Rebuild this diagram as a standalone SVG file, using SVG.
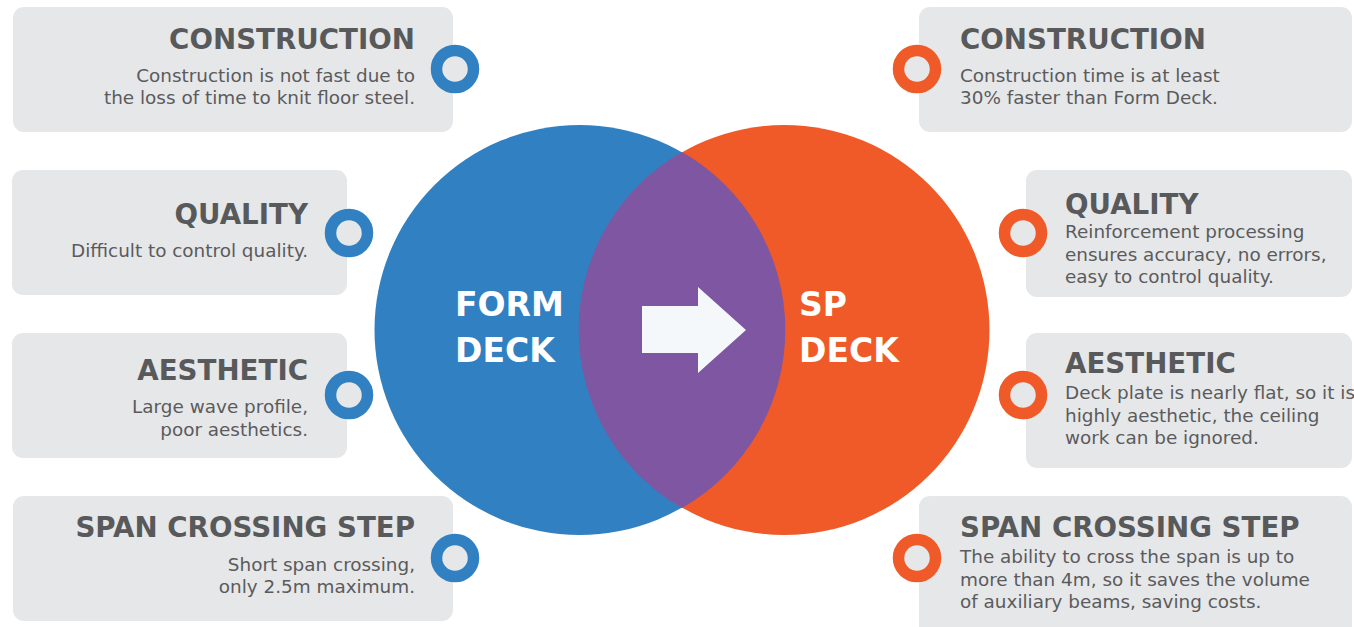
<svg xmlns="http://www.w3.org/2000/svg" width="1354" height="627" viewBox="0 0 1354 627">
  <style>
    .card { fill: #e6e7e8; }
    .title { font-family: "DejaVu Sans", "Open Sans", sans-serif; font-weight: 700; font-size: 27.7px; fill: #58595b; }
    .body { font-family: "DejaVu Sans", "Open Sans", sans-serif; font-weight: 400; font-size: 18.4px; fill: #5a5b5d; }
    .end { text-anchor: end; }
    .ring-blue { fill: #e6e7e8; stroke: #3180c2; stroke-width: 11.5; }
    .ring-orange { fill: #e6e7e8; stroke: #f05a29; stroke-width: 11.5; }
    .big { font-family: "DejaVu Sans", "Open Sans", sans-serif; font-weight: 700; font-size: 33px; fill: #ffffff; }
  </style>

  <rect width="1354" height="627" fill="#ffffff"/>

  <!-- Venn circles -->
  <g id="form-deck">
    <circle cx="579.5" cy="330" r="205" fill="#3180c2"/>
    <text class="big" x="455" y="316">FORM</text>
    <text class="big" x="455" y="362">DECK</text>
  </g>
  <g id="sp-deck">
    <circle cx="784.5" cy="330" r="205" fill="#f05a29"/>
    <text class="big" x="799" y="316">SP</text>
    <text class="big" x="799" y="362">DECK</text>
  </g>
  <g id="overlap">
    <path d="M682,152 A205,205 0 0 1 682,508 A205,205 0 0 1 682,152 Z" fill="#7e56a1"/>
  </g>

  <!-- Transition arrow -->
  <g id="connectors">
    <polygon points="642,306 698,306 698,287 746,330 698,373 698,353 642,353" fill="#f5f8fa"/>
  </g>

  <!-- Form Deck cards -->
  <g id="left-construction">
    <rect class="card" x="13" y="7" width="440" height="125" rx="11"/>
    <text class="title end" x="415" y="49">CONSTRUCTION</text>
    <text class="body end" x="415" y="82">Construction is not fast due to</text>
    <text class="body end" x="415" y="104">the loss of time to knit floor steel.</text>
    <circle class="ring-blue" cx="455" cy="69" r="18.5"/>
  </g>
  <g id="left-quality">
    <rect class="card" x="12" y="170" width="335" height="125" rx="11"/>
    <text class="title end" x="308" y="224">QUALITY</text>
    <text class="body end" x="308" y="257">Difficult to control quality.</text>
    <circle class="ring-blue" cx="349" cy="233" r="18.5"/>
  </g>
  <g id="left-aesthetic">
    <rect class="card" x="12" y="333" width="335" height="125" rx="11"/>
    <text class="title end" x="308" y="380">AESTHETIC</text>
    <text class="body end" x="308" y="413">Large wave profile,</text>
    <text class="body end" x="308" y="436">poor aesthetics.</text>
    <circle class="ring-blue" cx="349" cy="395" r="18.5"/>
  </g>
  <g id="left-span">
    <rect class="card" x="13" y="496" width="440" height="125" rx="11"/>
    <text class="title end" x="415" y="537">SPAN CROSSING STEP</text>
    <text class="body end" x="415" y="571">Short span crossing,</text>
    <text class="body end" x="415" y="593">only 2.5m maximum.</text>
    <circle class="ring-blue" cx="455" cy="558" r="18.5"/>
  </g>

  <!-- SP Deck cards -->
  <g id="right-construction">
    <rect class="card" x="919" y="7" width="433" height="125" rx="11"/>
    <text class="title" x="960" y="49">CONSTRUCTION</text>
    <text class="body" x="960" y="82">Construction time is at least</text>
    <text class="body" x="960" y="104">30% faster than Form Deck.</text>
    <circle class="ring-orange" cx="917" cy="69" r="18.5"/>
  </g>
  <g id="right-quality">
    <rect class="card" x="1026" y="170" width="326" height="127" rx="11"/>
    <text class="title" x="1065" y="214">QUALITY</text>
    <text class="body" x="1065" y="238">Reinforcement processing</text>
    <text class="body" x="1065" y="261">ensures accuracy, no errors,</text>
    <text class="body" x="1065" y="283">easy to control quality.</text>
    <circle class="ring-orange" cx="1023" cy="233" r="18.5"/>
  </g>
  <g id="right-aesthetic">
    <rect class="card" x="1026" y="333" width="326" height="135" rx="11"/>
    <text class="title" x="1065" y="373">AESTHETIC</text>
    <text class="body" x="1065" y="399">Deck plate is nearly flat, so it is</text>
    <text class="body" x="1065" y="422">highly aesthetic, the ceiling</text>
    <text class="body" x="1065" y="444">work can be ignored.</text>
    <circle class="ring-orange" cx="1023" cy="395" r="18.5"/>
  </g>
  <g id="right-span">
    <rect class="card" x="919" y="496" width="433" height="145" rx="11"/>
    <text class="title" x="960" y="537">SPAN CROSSING STEP</text>
    <text class="body" x="960" y="563">The ability to cross the span is up to</text>
    <text class="body" x="960" y="586">more than 4m, so it saves the volume</text>
    <text class="body" x="960" y="608">of auxiliary beams, saving costs.</text>
    <circle class="ring-orange" cx="917" cy="558" r="18.5"/>
  </g>
</svg>
